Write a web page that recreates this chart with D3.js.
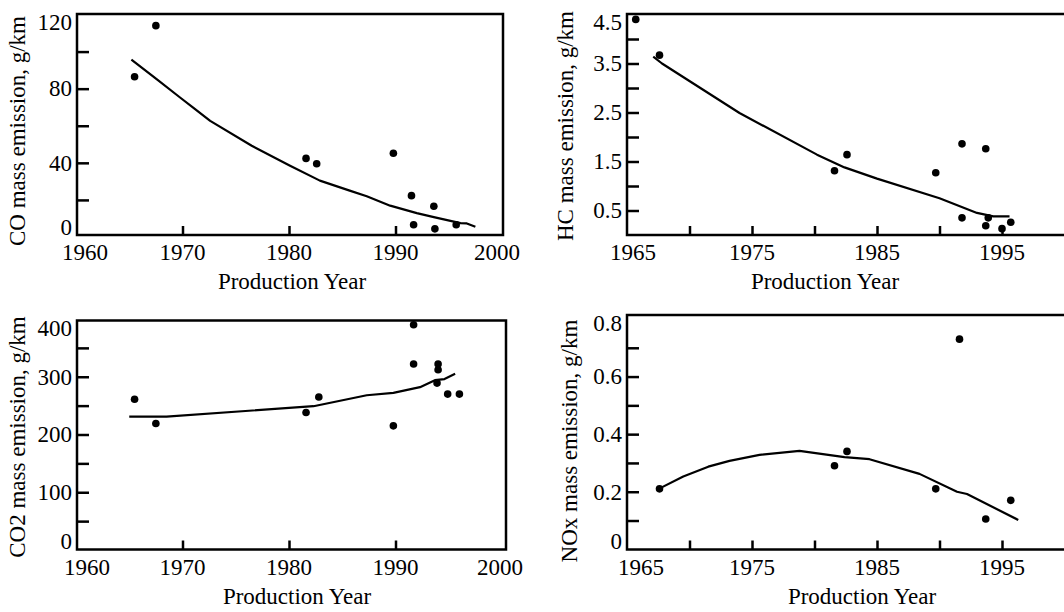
<!DOCTYPE html>
<html>
<head>
<meta charset="utf-8">
<script src="https://cdn.jsdelivr.net/npm/d3@7"></script>
<style>
  body { margin: 0; background: #fff; }
  svg { display: block; }
  text { font-family: "Liberation Serif", "Times New Roman", serif; fill: #000; }
</style>
</head>
<body>
<svg id="chart" width="1064" height="612"></svg>
<script>
// CO panel
const coYears = [1965.5, 1967.5, 1981.6, 1982.6, 1989.8, 1991.5, 1991.7, 1993.6, 1993.7, 1995.7];
const coValues = [86.4, 114, 42.4, 39.5, 45.2, 22.3, 6.6, 16.6, 4.4, 6.6];
const coFitYears = [1965.2, 1967.6, 1969.8, 1971.0, 1972.6, 1976.5, 1980.1, 1982.9, 1985.7, 1987.3, 1989.5, 1992.0, 1993.6, 1996.1, 1996.7, 1997.5];
const coFitValues = [95.7, 85, 75.1, 69.8, 62.6, 49.2, 38.4, 30.4, 25, 22, 16.9, 12.9, 10.7, 7.5, 7.3, 5.5];

// HC panel
const hcYears = [1965.7, 1967.6, 1981.6, 1982.6, 1989.7, 1991.8, 1991.8, 1993.7, 1993.7, 1993.9, 1995.0, 1995.7];
const hcValues = [4.4, 3.67, 1.31, 1.64, 1.27, 1.86, 0.35, 1.76, 0.19, 0.35, 0.13, 0.26];
const hcFitYears = [1967.1, 1967.8, 1974.0, 1980.2, 1982.4, 1985.0, 1990.0, 1993.0, 1994.3, 1995.6];
const hcFitValues = [3.64, 3.5, 2.49, 1.64, 1.38, 1.15, 0.75, 0.45, 0.38, 0.38];

// CO2 panel
const co2Years = [1965.5, 1967.5, 1981.6, 1982.8, 1989.8, 1991.7, 1991.7, 1994.0, 1994.0, 1993.9, 1994.9, 1996.0];
const co2Values = [261, 219, 238, 265, 215, 390, 322, 322, 312, 289, 270, 270];
const co2FitYears = [1965.0, 1968.5, 1982.3, 1987.3, 1989.8, 1992.3, 1993.7, 1994.6, 1995.6];
const co2FitValues = [231, 231, 249, 268, 272, 282, 294, 296, 305];

// NOx panel
const noxYears = [1967.6, 1981.6, 1982.6, 1989.7, 1991.6, 1993.7, 1995.7];
const noxValues = [0.21, 0.29, 0.34, 0.21, 0.73, 0.105, 0.17];
const noxFitYears = [1967.5, 1969.5, 1971.5, 1973.2, 1975.6, 1978.8, 1982.4, 1984.4, 1988.4, 1991.4, 1992.2, 1996.3];
const noxFitValues = [0.209, 0.253, 0.287, 0.307, 0.328, 0.342, 0.32, 0.313, 0.262, 0.2, 0.192, 0.102];

// ticks and labels
const wideYearLabels = [1960, 1970, 1980, 1990, 2000];
const wideYearTicks = [1970, 1980, 1990];
const narrowYearLabels = [1965, 1975, 1985, 1995];
const narrowYearTicks = [1970, 1975, 1980, 1985, 1990, 1995];
const coTickLabels = [0, 40, 80, 120];
const coTicks = [20, 40, 60, 80, 100];
const hcTickLabels = [0.5, 1.5, 2.5, 3.5, 4.5];
const hcTicks = [0.5, 1.0, 1.5, 2.0, 2.5, 3.0, 3.5, 4.0];
const co2TickLabels = [0, 100, 200, 300, 400];
const co2Ticks = [50, 100, 150, 200, 250, 300, 350];
const noxTickLabels = [0, 0.2, 0.4, 0.6, 0.8];
const noxTicks = [0.1, 0.2, 0.3, 0.4, 0.5, 0.6, 0.7];

const xTitle = "Production Year";
const FONT = 23;

const svg = d3.select("#chart");
svg.append("rect").attr("width", 1064).attr("height", 612).attr("fill", "#fff");

function drawPanel(p) {
  const { box } = p;
  const x = d3.scaleLinear().domain(p.xDomain).range(p.xRange);
  const y = d3.scaleLinear().domain(p.yDomain).range(p.yRange);
  const g = svg.append("g");

  // frame
  g.append("rect")
    .attr("x", box.left).attr("y", box.top)
    .attr("width", box.right - box.left).attr("height", box.bottom - box.top)
    .attr("fill", "none").attr("stroke", "#000").attr("stroke-width", 2.5);

  // inward ticks on the left
  g.append("g")
    .attr("transform", `translate(${box.left},0)`)
    .call(d3.axisLeft(y).tickValues(p.yTicks).tickSize(-12).tickFormat(""))
    .call((a) => a.select(".domain").remove())
    .selectAll("line").attr("stroke", "#000").attr("stroke-width", 2.5);

  // inward ticks on the bottom
  g.append("g")
    .attr("transform", `translate(0,${box.bottom})`)
    .call(d3.axisBottom(x).tickValues(p.xTicks).tickSize(-9).tickFormat(""))
    .call((a) => a.select(".domain").remove())
    .selectAll("line").attr("stroke", "#000").attr("stroke-width", 2.5);

  // y tick labels (end labels pulled inside the frame, as in the source)
  g.selectAll(".ylab")
    .data(p.yLabels)
    .join("text")
    .attr("class", "ylab")
    .attr("x", box.left - 5)
    .attr("y", (d) => Math.min(Math.max(y(d), box.top + 8), box.bottom - 8))
    .attr("dy", "0.34em")
    .attr("text-anchor", "end")
    .style("font-size", FONT + "px")
    .text((d) => String(d));

  // x tick labels
  g.selectAll(".xlab")
    .data(p.xLabels)
    .join("text")
    .attr("class", "xlab")
    .attr("x", (d, i) => (i === 0 ? x(d) + p.firstShift : Math.min(x(d), box.right - 6)))
    .attr("y", box.bottom + 25)
    .attr("text-anchor", "middle")
    .style("font-size", FONT + "px")
    .text((d) => String(d));

  // axis titles
  g.append("text")
    .attr("x", p.xTitleX)
    .attr("y", box.bottom + 54)
    .attr("text-anchor", "middle")
    .style("font-size", FONT + "px")
    .text(xTitle);

  g.append("text")
    .attr("transform", `translate(${p.yTitleX},${p.yTitleY}) rotate(-90)`)
    .attr("text-anchor", "middle")
    .style("font-size", FONT + "px")
    .text(p.yTitle);

  // fitted curve
  const fit = p.fitYears.map((yr, i) => [yr, p.fitValues[i]]);
  g.append("path")
    .datum(fit)
    .attr("d", d3.line().x((d) => x(d[0])).y((d) => y(d[1])))
    .attr("fill", "none")
    .attr("stroke", "#000")
    .attr("stroke-width", 2.2)
    .attr("stroke-linejoin", "round");

  // measured points
  const pts = p.years.map((yr, i) => [yr, p.values[i]]);
  g.selectAll(".pt")
    .data(pts)
    .join("circle")
    .attr("class", "pt")
    .attr("cx", (d) => x(d[0]))
    .attr("cy", (d) => y(d[1]))
    .attr("r", 3.8)
    .attr("fill", "#000");
}

drawPanel({
  box: { left: 77, top: 14, right: 503, bottom: 235 },
  xDomain: [1960, 2000], xRange: [76, 502],
  yDomain: [0, 120], yRange: [237, 14.5],
  xTicks: wideYearTicks, xLabels: wideYearLabels, firstShift: 9,
  yTicks: coTicks, yLabels: coTickLabels,
  years: coYears, values: coValues, fitYears: coFitYears, fitValues: coFitValues,
  yTitle: "CO mass emission, g/km", yTitleX: 25, yTitleY: 131, xTitleX: 292,
});

drawPanel({
  box: { left: 627, top: 14, right: 1075, bottom: 235 },
  xDomain: [1965, 2000], xRange: [627, 1064.5],
  yDomain: [0, 4.5], yRange: [235, 14.5],
  xTicks: narrowYearTicks, xLabels: narrowYearLabels, firstShift: 6,
  yTicks: hcTicks, yLabels: hcTickLabels,
  years: hcYears, values: hcValues, fitYears: hcFitYears, fitValues: hcFitValues,
  yTitle: "HC mass emission, g/km", yTitleX: 573, yTitleY: 126, xTitleX: 825,
});

drawPanel({
  box: { left: 77, top: 320.5, right: 506, bottom: 549.5 },
  xDomain: [1960, 2000], xRange: [76, 502],
  yDomain: [0, 400], yRange: [550, 319],
  xTicks: wideYearTicks, xLabels: wideYearLabels, firstShift: 11,
  yTicks: co2Ticks, yLabels: co2TickLabels,
  years: co2Years, values: co2Values, fitYears: co2FitYears, fitValues: co2FitValues,
  yTitle: "CO2 mass emission, g/km", yTitleX: 25, yTitleY: 437, xTitleX: 297,
});

drawPanel({
  box: { left: 627, top: 315, right: 1075, bottom: 549.5 },
  xDomain: [1965, 2000], xRange: [627, 1064.5],
  yDomain: [0, 0.8], yRange: [549.3, 319],
  xTicks: narrowYearTicks, xLabels: narrowYearLabels, firstShift: 14,
  yTicks: noxTicks, yLabels: noxTickLabels,
  years: noxYears, values: noxValues, fitYears: noxFitYears, fitValues: noxFitValues,
  yTitle: "NOx mass emission, g/km", yTitleX: 577, yTitleY: 441, xTitleX: 862,
});
</script>
</body>
</html>
